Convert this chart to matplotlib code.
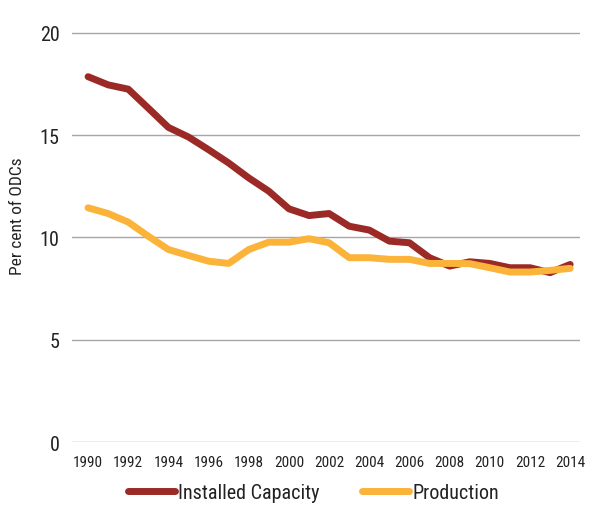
import numpy as np
from matplotlib import pyplot as plt

years = list(range(1990, 2015))
installed = [17.86, 17.46, 17.25, 16.32, 15.38, 14.91, 14.29, 13.64, 12.91, 12.26,
             11.40, 11.07, 11.17, 10.55, 10.36, 9.82, 9.74, 9.01, 8.60, 8.81,
             8.73, 8.52, 8.52, 8.28, 8.68]
production = [11.45, 11.17, 10.75, 10.06, 9.41, 9.12, 8.84, 8.73, 9.41, 9.77,
              9.77, 9.94, 9.74, 9.01, 9.01, 8.93, 8.93, 8.73, 8.73, 8.72,
              8.52, 8.31, 8.31, 8.39, 8.49]
xticks = list(range(1990, 2015, 2))
yticks = [0, 5, 10, 15, 20]

RED = "#9b2a26"
YELLOW = "#fbb33a"
TEXT = "#222222"
LINEWIDTH = 5

plt.rcParams["font.family"] = ["Roboto Condensed", "DejaVu Sans"]

fig = plt.figure(figsize=(6, 5.06), dpi=100)
ax = fig.add_axes([0.12, 0.1245, 0.847, 0.8105])

ax.plot(years, installed, color=RED, linewidth=LINEWIDTH, label="Installed Capacity",
        solid_capstyle="round", solid_joinstyle="round", zorder=3)
ax.plot(years, production, color=YELLOW, linewidth=LINEWIDTH, label="Production",
        solid_capstyle="round", solid_joinstyle="round", zorder=3)

ax.set_xlim(1989.2, 2014.5)
ax.set_ylim(0, 20.05)
ax.set_xticks(xticks)
ax.set_yticks(yticks)
ax.tick_params(axis="x", length=0, labelsize=11, colors=TEXT, pad=9)
ax.tick_params(axis="y", length=0, labelsize=14.5, colors=TEXT, pad=9)
ax.grid(axis="y", color="#a6a6a6", linewidth=1)
ax.set_axisbelow(True)
for s in ax.spines.values():
    s.set_visible(False)

ax.set_ylabel("Per cent of ODCs", fontsize=12.5, color=TEXT)
ax.yaxis.set_label_coords(-0.0925, 0.554)

fig.legend(loc="center", bbox_to_anchor=(0.5225, 0.025), ncol=2, frameon=False,
           fontsize=14.5, handlelength=2.35, handletextpad=0.15, columnspacing=2.1,
           labelcolor=TEXT)

plt.savefig("out.png")
